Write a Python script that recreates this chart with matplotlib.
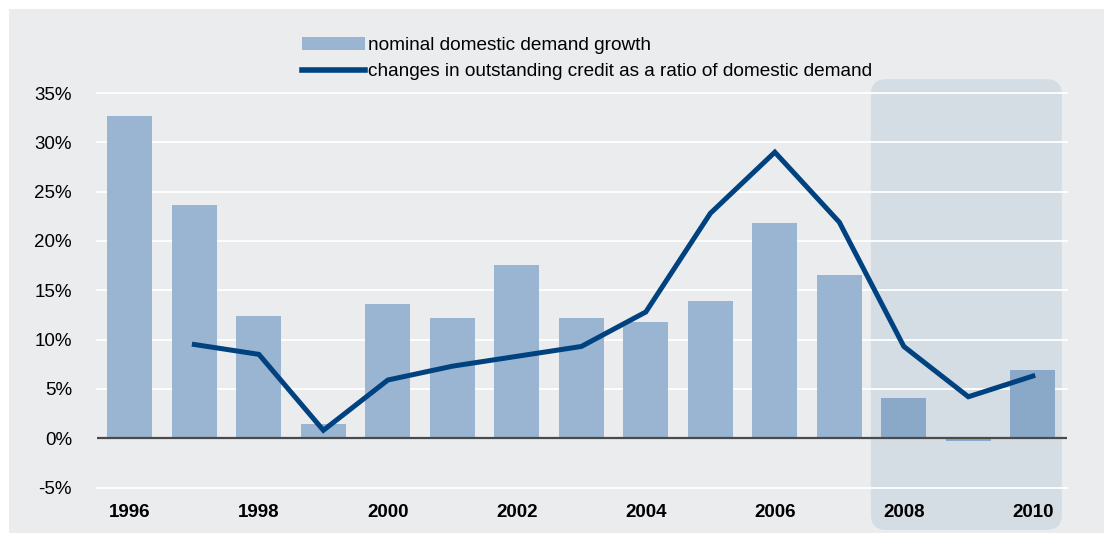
import matplotlib.pyplot as plt
from matplotlib.patches import Rectangle, FancyBboxPatch
from matplotlib.lines import Line2D
import numpy as np

plt.rcParams['font.family'] = ['Liberation Sans', 'DejaVu Sans']

# data (percent)
years = list(range(1996, 2011))
demand_growth = [32.7, 23.6, 12.4, 1.4, 13.6, 12.2, 17.6, 12.2, 11.8, 13.9,
                 21.8, 16.5, 4.1, -0.3, 6.9]
credit_years = list(range(1997, 2011))
credit_ratio = [9.5, 8.5, 0.8, 5.9, 7.3, 8.3, 9.3, 12.8, 22.8, 29.0,
                21.9, 9.3, 4.2, 6.3]
highlight_from = 2008
yticks = [-5, 0, 5, 10, 15, 20, 25, 30, 35]

bar_color = '#9ab5d1'
bar_dark = '#8aa9c8'
line_color = '#00427f'
bg = '#ebeced'

fig = plt.figure(figsize=(11.04, 5.33), dpi=100)
fig.patches.append(Rectangle((9 / 1104, 0), 1 - 9 / 1104, 1 - 9 / 533,
                             transform=fig.transFigure, facecolor=bg,
                             edgecolor='none', zorder=-10))

ax = fig.add_axes([97 / 1104, 45.5 / 533, 970 / 1104, 394.5 / 533])
ax.set_facecolor('none')
x = np.arange(len(years))
ax.set_xlim(-0.51, 14.53)
ax.set_ylim(-5, 35)

# shaded crisis period box
hx = years.index(highlight_from)
box = FancyBboxPatch((hx - 0.51, -9.3), len(years) - hx - 0.04, 45.7,
                     boxstyle='round,pad=0,rounding_size=0.24',
                     mutation_aspect=6.5, facecolor='#d4dce4',
                     edgecolor='none', zorder=1, clip_on=False)
ax.add_patch(box)

for t in yticks:
    if t == 0:
        continue
    ax.axhline(t, color='white', lw=1.3, zorder=2, clip_on=False)

colors = [bar_dark if y >= highlight_from else bar_color for y in years]
ax.bar(x, demand_growth, width=0.7, color=colors, zorder=3)
ax.axhline(0, color='#4a4a4a', lw=1.6, zorder=4)

cx = [years.index(y) for y in credit_years]
ax.plot(cx, credit_ratio, color=line_color, lw=3.6, zorder=5,
        solid_joinstyle='miter')

ax.set_yticks(yticks)
ax.set_yticklabels([f'{t}%' for t in yticks], fontsize=13.5)
ax.set_xticks(x[::2])
ax.set_xticklabels([str(y) for y in years[::2]], fontsize=13.5,
                   fontweight='bold')
ax.tick_params(length=0)
ax.tick_params(axis='y', pad=18)
ax.tick_params(axis='x', pad=12)
for s in ax.spines.values():
    s.set_visible(False)

handles = [Rectangle((0, 0), 1, 1, facecolor=bar_color, edgecolor='none'),
           Line2D([0], [0], color=line_color, lw=4)]
labels = ['nominal domestic demand growth',
          'changes in outstanding credit as a ratio of domestic demand']
fig.legend(handles, labels, loc='upper left',
           bbox_to_anchor=(302 / 1104, 1 - 37 / 533), frameon=False,
           fontsize=13.7, handlelength=3.3, handletextpad=0.15,
           labelspacing=0.45, borderpad=0, borderaxespad=0)

fig.savefig('out.png', dpi=100)
